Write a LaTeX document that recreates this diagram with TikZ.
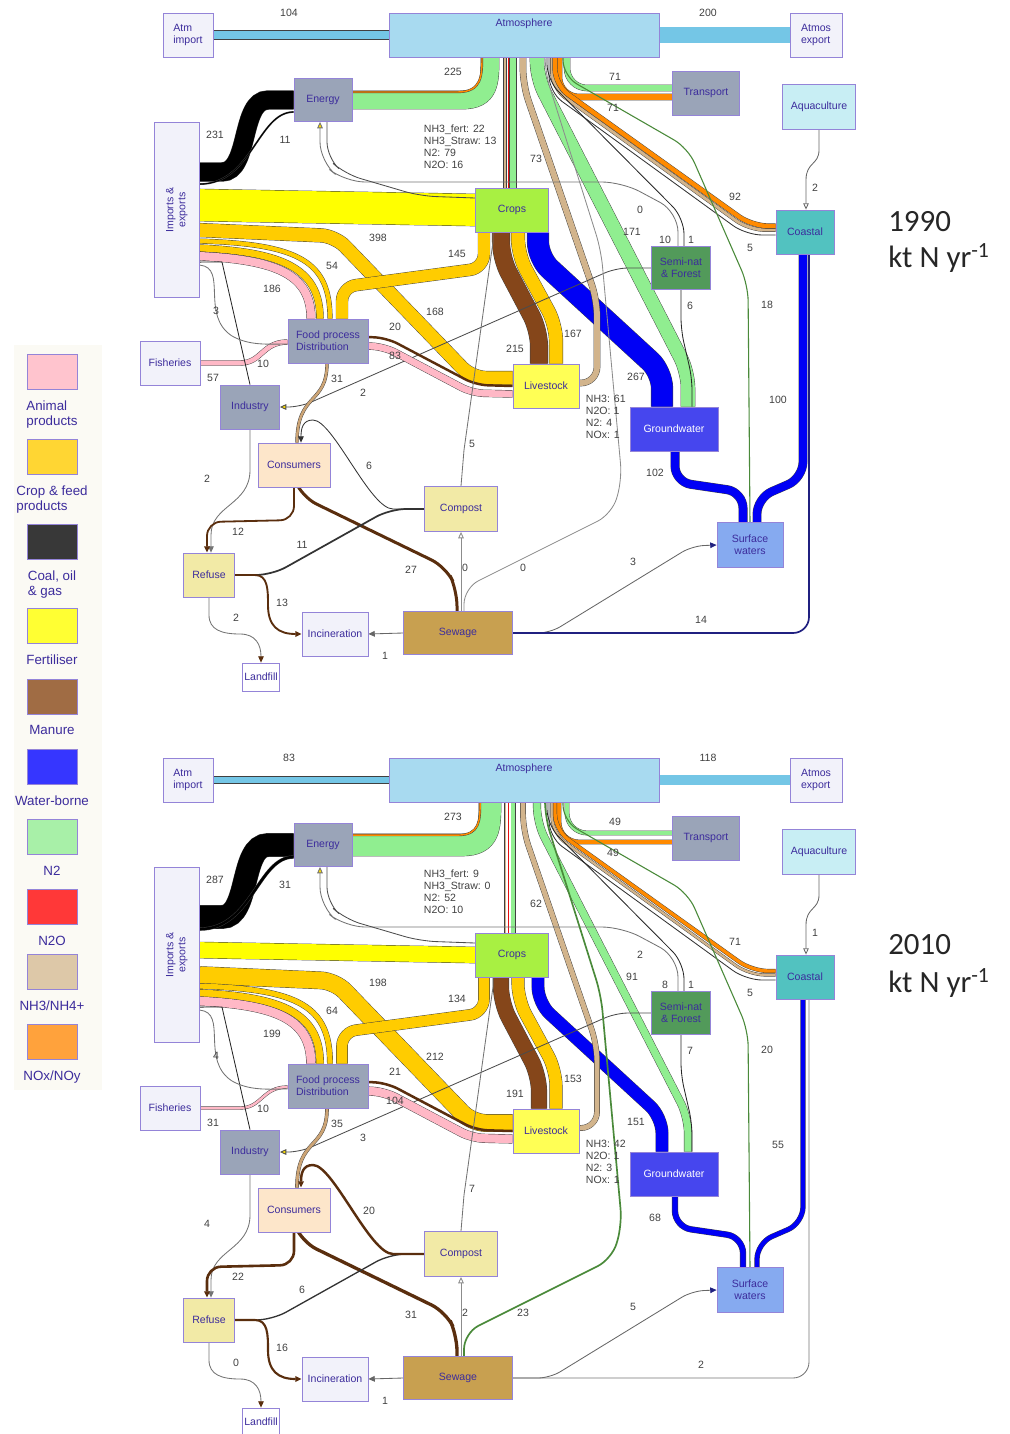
\documentclass[tikz,border=0pt]{standalone}
\usepackage{fontspec}
\setsansfont{Liberation Sans}
\newfontfamily\yearfont{Carlito}
\usetikzlibrary{arrows.meta, calc, positioning, backgrounds}

% box colours
\definecolor{boxline}{HTML}{9484D8}
\definecolor{txtblue}{HTML}{3C2C9C}
\definecolor{palebox}{HTML}{F2F2FA}
\definecolor{atmosfill}{HTML}{A8DAF0}
\definecolor{atmflow}{HTML}{74C6E6}
\definecolor{greybox}{HTML}{9AA4B8}
\definecolor{aquafill}{HTML}{C8EEF4}
\definecolor{cropsfill}{HTML}{A8F042}
\definecolor{coastfill}{HTML}{52C2C0}
\definecolor{semifill}{HTML}{529A5A}
\definecolor{livefill}{HTML}{FFFF55}
\definecolor{gwfill}{HTML}{4646EE}
\definecolor{consfill}{HTML}{FDE6CA}
\definecolor{compfill}{HTML}{F2EAA6}
\definecolor{swfill}{HTML}{86AAF0}
\definecolor{sewfill}{HTML}{C8A050}
% flow colours
\definecolor{animal}{HTML}{FFB8C6}
\definecolor{cropfeed}{HTML}{FFCC00}
\definecolor{coal}{HTML}{000000}
\definecolor{fert}{HTML}{FFFF00}
\definecolor{manure}{HTML}{85461A}
\definecolor{water}{HTML}{0000F5}
\definecolor{ntwo}{HTML}{90EE90}
\definecolor{ntwoo}{HTML}{E81010}
\definecolor{nhthree}{HTML}{D2B48C}
\definecolor{nox}{HTML}{FF8A00}
\definecolor{darkgr}{HTML}{4A8A3A}
\definecolor{navy}{HTML}{202080}
\definecolor{dbrown}{HTML}{5A2E0E}
% legend colours
\definecolor{legendbg}{HTML}{FBFAF4}
\definecolor{legpink}{HTML}{FFC4CE}
\definecolor{leggold}{HTML}{FFD633}
\definecolor{legcoal}{HTML}{383838}
\definecolor{legfert}{HTML}{FFFF33}
\definecolor{legmanure}{HTML}{A06C44}
\definecolor{legwater}{HTML}{3636FF}
\definecolor{legntwo}{HTML}{A8F0A8}
\definecolor{legntwoo}{HTML}{FF3838}
\definecolor{legnh}{HTML}{DDC8A8}
\definecolor{legnox}{HTML}{FFA23C}

\newcommand\pxl{0.025cm}
\newcommand\kts{0.002cm}
\newcommand\nv[1]{\csname nv@#1\endcsname}
\newcommand\setnv[1]{\foreach \nk/\nval in {#1}{\expandafter\xdef\csname nv@\nk\endcsname{\nval}}}

\tikzset{
  box/.style={draw=boxline, line width=0.6pt, inner sep=1pt, align=center,
    font=\sffamily\fontsize{7.5}{8.5}\selectfont, text=txtblue},
  sz/.style 2 args={minimum width=#1*\pxl, minimum height=#2*\pxl},
  num/.style={font=\sffamily\fontsize{7.5}{8.5}\selectfont, text=black!75, inner sep=0.5pt},
  flow/.style 2 args={draw=black!75, line width=0.3pt, double=#1, double distance=#2*\kts},
  pipe/.style 2 args={draw=#1, line width=0.6pt+#2*\kts},
  arr/.style={-{Triangle[length=4.5pt, width=4pt]}},
  yarr/.style={-{Triangle[length=4.5pt, width=4pt, fill=yellow!80!orange]}},
  oarr/.style={-{Triangle[length=4.5pt, width=4pt, open]}},
  barr/.style={-{Triangle[length=4.5pt, width=4pt, color=dbrown]}},
  narr/.style={-{Triangle[length=4.5pt, width=4pt, color=navy]}},
  swatch/.style={draw=boxline, line width=0.6pt, minimum width=50*\pxl, minimum height=35*\pxl},
  legtxt/.style={font=\sffamily\fontsize{9.5}{10.5}\selectfont, text=txtblue, align=left, inner sep=0pt},
  yeartxt/.style={font=\yearfont\fontsize{22}{24}\selectfont, text=black!85, anchor=west, inner sep=0pt}
}

% one year of the nitrogen budget, values taken from \nv{...}
\newcommand\nitropanel{%
  % boxes
  \node[box, sz={50}{44}, fill=palebox, align=left] (atmimp) at (188,35) {Atm\\import};
  \node[box, sz={270}{44}, fill=atmosfill,
    label={[box, draw=none, anchor=north, yshift=-3pt]north:Atmosphere}] (atmos) at (524,35) {};
  \node[box, sz={52}{44}, fill=palebox, align=left] (atmexp) at (816,35) {Atmos\\export};
  \node[box, sz={58}{43}, fill=greybox] (energy) at (323,100) {Energy};
  \node[box, sz={67}{44}, fill=greybox] (transport) at (706,93) {Transport};
  \node[box, sz={73}{45}, fill=aquafill] (aqua) at (819,107) {Aquaculture};
  \node[box, sz={45}{175}, fill=palebox] (impexp) at (177,210)
    {\rotatebox{90}{\begin{tabular}{@{}c@{}}Imports \&\\exports\end{tabular}}};
  \node[box, sz={73}{44}, fill=cropsfill] (crops) at (512,210) {Crops};
  \node[box, sz={58}{44}, fill=coastfill] (coastal) at (805,232) {Coastal};
  \node[box, sz={59}{43}, fill=semifill] (seminat) at (681,268) {Semi-nat\\\& Forest};
  \node[box, sz={60}{44}, fill=palebox] (fisheries) at (170,363) {Fisheries};
  \node[box, sz={80}{44}, fill=greybox, align=left] (foodproc) at (328,341) {Food process\\Distribution};
  \node[box, sz={66}{44}, fill=livefill] (livestock) at (546,386) {Livestock};
  \node[box, sz={59}{44}, fill=greybox] (industry) at (250,407) {Industry};
  \node[box, sz={88}{44}, fill=gwfill, text=white] (gw) at (674,429) {Groundwater};
  \node[box, sz={72}{44}, fill=consfill] (consumers) at (294,465) {Consumers};
  \node[box, sz={73}{45}, fill=compfill] (compost) at (461,509) {Compost};
  \node[box, sz={66}{45}, fill=swfill] (surface) at (750,545) {Surface\\waters};
  \node[box, sz={51}{44}, fill=compfill] (refuse) at (209,575) {Refuse};
  \node[box, sz={66}{44}, fill=palebox] (incin) at (335,634) {Incineration};
  \node[box, sz={109}{43}, fill=sewfill] (sewage) at (458,633) {Sewage};
  \node[box, sz={37}{28}, fill=white] (landfill) at (261,677) {Landfill};

  % flows, behind the boxes
  \begin{scope}[on background layer]
    % air in and out
    \draw[flow={atmflow}{\nv{atmimp}}] (atmimp.east) -- (atmos.west);
    \draw[flow={atmflow}{\nv{atmexp}}] (atmos.east) -- (atmexp.west);
    % fuel to energy, energy to air
    \draw[flow={coal}{\nv{coal}}] (impexp.north east) ++(0,50) -- (222,172)
      .. controls (250,172) and (240,100) .. (268,100) -- (energy.west);
    \draw[flow={coal}{\nv{coalb}}] (impexp.north east) ++(0,62)
      .. controls (252,184) and (258,112) .. (energy.west |- 0,112);
    \draw[flow={ntwo}{\nv{enatm}}] (energy.east) -- (462,100)
      .. controls (490,100) and (490,82) .. (490,0 |- atmos.south);
    \pgfmathsetmacro\noxy{101-\nv{enatm}*0.04}
    \pgfmathsetmacro\noxx{491-\nv{enatm}*0.04}
    \draw[flow={nox}{18}] (energy.east |- 0,\noxy) -- (458,\noxy)
      .. controls (\noxx,\noxy) and (\noxx,75) .. (\noxx,0 |- atmos.south);
    % imports of fertiliser, feed and food
    \draw[flow={fert}{\nv{fert}}] (impexp.north east) ++(0,83) -- (crops.west);
    \draw[flow={cropfeed}{\nv{implive}}, rounded corners=0.35cm] (impexp.north east) ++(0,108)
      -- (335,236) -- (472,378) -- (livestock.west |- 0,378);
    \draw[flow={cropfeed}{\nv{impfoodb}}] (impexp.north east) ++(0,119)
      .. controls (300,244) and (330,262) .. (330,0 |- foodproc.north);
    \draw[flow={cropfeed}{\nv{impfood}*0.45}] (impexp.north east) ++(0,126)
      .. controls (282,252) and (320,268) .. (320,0 |- foodproc.north);
    \draw[flow={animal}{\nv{impfood}*0.55}] (impexp.north east) ++(0,134)
      .. controls (276,260) and (311,274) .. (311,0 |- foodproc.north);
    % crops, manure and leaching
    \draw[flow={cropfeed}{\nv{cropfood}}, rounded corners=0.35cm] (484,0 |- crops.south)
      -- (484,268) -- (342,287) -- (342,0 |- foodproc.north);
    \draw[flow={manure}{\nv{manure}}, rounded corners=0.4cm] (501,0 |- crops.south)
      -- (501,258) -- (539,330) -- (539,0 |- livestock.north);
    \draw[flow={cropfeed}{\nv{croplive}}, rounded corners=0.4cm] (518,0 |- crops.south)
      -- (518,255) -- (556,325) -- (556,0 |- livestock.north);
    \draw[flow={water}{\nv{cropgw}}, rounded corners=0.4cm] (538,0 |- crops.south)
      -- (538,258) -- (662,372) -- (662,0 |- gw.north);
    % exchanges with the air
    \draw[flow={ntwo}{\nv{atmgw}}, rounded corners=0.4cm] (537,0 |- atmos.south)
      -- (537,78) -- (688,372) -- (688,0 |- gw.north);
    \draw[flow={nhthree}{(\nv{nhfert}+\nv{nhstraw})}] (505,0 |- atmos.south) -- (505,0 |- crops.north);
    \draw[ntwoo, line width=\nv{ntwoocrop}*\kts+0.3pt] (508.5,0 |- atmos.south) -- (508.5,0 |- crops.north);
    \draw[flow={ntwo}{\nv{ntwocrop}}] (513,0 |- atmos.south) -- (513,0 |- crops.north);
    \draw[flow={nhthree}{\nv{liveatm}}, rounded corners=0.4cm] (livestock.east |- 0,383)
      -- (597,383) -- (597,300) -- (523,85) -- (523,0 |- atmos.south);
    \draw[flow={ntwo}{\nv{transn}}, rounded corners=0.5cm] (567,0 |- atmos.south)
      -- (567,88) -- (transport.west |- 0,88);
    \draw[flow={nox}{\nv{transx}}, rounded corners=0.5cm] (559,0 |- atmos.south)
      -- (559,97) -- (transport.west |- 0,97);
    \draw[flow={nhthree}{\nv{atmcoast}*0.4}, rounded corners=0.4cm] (552,0 |- atmos.south)
      -- (552,88) -- (749,230) -- (coastal.west |- 0,230);
    \draw[flow={nox}{\nv{atmcoast}*0.6}, rounded corners=0.4cm] (555,0 |- atmos.south)
      -- (555,85) -- (752,226) -- (coastal.west |- 0,226);
    \draw[pipe={black!80}{0}, rounded corners=0.4cm] (549,0 |- atmos.south)
      -- (549,92) -- (746,235) -- (coastal.west |- 0,235);
    \draw[pipe={darkgr}{3}, rounded corners=0.4cm] (563,0 |- atmos.south) -- (563,76)
      -- (688,148) -- (748,285) -- (750,0 |- surface.north);
    % semi-natural land
    \draw[pipe={black!55}{0}, rounded corners=0.5cm, yarr] (678,0 |- seminat.north)
      -- (678,212) -- (622,182) -- (345,182) -- (320,162) -- (320,0 |- energy.south);
    \draw[pipe={black!70}{0}, rounded corners=0.4cm] (crops.west |- 0,198)
      -- (420,196) -- (345,174) -- (327,158) -- (327,0 |- energy.south);
    \draw[pipe={black!85}{0}, rounded corners=0.4cm] (547,0 |- atmos.south)
      -- (547,80) -- (684,218) -- (684,0 |- seminat.north);
    \draw[pipe={black!85}{0}, rounded corners=0.3cm] (seminat.south)
      -- (681,330) -- (692,378) -- (692,0 |- gw.north);
    \draw[pipe={black!70}{0}, rounded corners=0.3cm, yarr] (seminat.west)
      -- (616,268) -- (300,407) -- (industry.east);
    % food chain
    \draw[flow={animal}{\nv{fish}}] (fisheries.east) -- (240,363)
      .. controls (262,363) and (262,342) .. (foodproc.west |- 0,342);
    \draw[pipe={black!85}{0}] (impexp.north east) ++(0,140) -- (222,262) -- (industry.north);
    \draw[pipe={black!55}{0}] (impexp.north east) ++(0,143)
      .. controls (228,268) and (200,315) .. (232,336)
      .. controls (250,346) and (268,344) .. (foodproc.west |- 0,344);
    \draw[flow={animal}{\nv{foodlivep}}, rounded corners=0.3cm] (foodproc.east |- 0,346)
      -- (385,347) -- (472,393) -- (livestock.west |- 0,394);
    \draw[pipe={dbrown}{\nv{foodliveb}}, rounded corners=0.3cm] (foodproc.east |- 0,337)
      -- (387,338) -- (476,385) -- (livestock.west |- 0,386);
    \draw[flow={nhthree!70!brown}{\nv{foodcons}}] (327,0 |- foodproc.south)
      .. controls (327,405) and (297,392) .. (297,0 |- consumers.north);
    % wastes
    \draw[pipe={black!55}{0}, arr] (industry.south) -- (250,470)
      .. controls (250,505) and (211,505) .. (211,535) -- (211,0 |- refuse.north);
    \draw[pipe={dbrown}{\nv{consref}}, rounded corners=0.35cm, arr] (294,0 |- consumers.south)
      -- (294,520) -- (207,522) -- (207,0 |- refuse.north);
    \draw[pipe={dbrown}{\nv{conssew}}, rounded corners=0.4cm] (298,0 |- consumers.south)
      -- (302,497) -- (446,567) -- (457,590) -- (457,0 |- sewage.north);
    \draw[pipe={black!80}{\nv{refcomp}}, rounded corners=0.4cm] (refuse.east)
      -- (272,575) -- (390,509) -- (compost.west);
    \draw[compcons, arr] (compost.west) -- (393,509)
      .. controls (370,509) and (333,420) .. (313,420)
      .. controls (303,420) and (301,428) .. (301,0 |- consumers.north);
    \draw[pipe={dbrown}{\nv{refinc}}, arr] (refuse.east) -- (255,575)
      .. controls (268,575) and (268,590) .. (268,605)
      .. controls (268,626) and (278,634) .. (incin.west);
    \draw[pipe={black!55}{0}, barr] (refuse.south)
      -- (209,615) .. controls (209,630) and (222,634) .. (240,634)
      .. controls (256,634) and (261,645) .. (261,0 |- landfill.north);
    \draw[pipe={black!60}{0}, arr] (sewage.west) -- (incin.east);
    \draw[pipe={black!45}{0}, oarr] (461,0 |- sewage.north) -- (461,0 |- compost.south);
    \draw[sewatm, rounded corners=0.4cm] (464,0 |- sewage.north) -- (464,588)
      -- (612,514) -- (622,480) -- (601,250) -- (545,72) -- (545,0 |- atmos.south);
    \draw[pipe={black!55}{0}] (compost.north) -- (464,450) -- (493,242) -- (493,0 |- crops.south);
    % waters
    \draw[pipe={black!60}{0}, rounded corners=0.3cm, narr] (sewage.east)
      -- (550,633) -- (692,546) -- (surface.west);
    \draw[sewcoast, rounded corners=0.4cm] (sewage.east) -- (809,633) -- (809,0 |- coastal.south);
    \draw[flow={water}{\nv{gwsw}}, rounded corners=0.4cm] (675,0 |- gw.south)
      -- (675,482) -- (743,492) -- (743,0 |- surface.north);
    \draw[flow={water}{\nv{swcoast}}, rounded corners=0.4cm] (757,0 |- surface.north)
      -- (757,498) -- (803,478) -- (803,0 |- coastal.south);
    \draw[pipe={black!60}{0}, oarr] (aqua.south) -- (819,150)
      .. controls (819,165) and (806,162) .. (806,180) -- (806,0 |- coastal.north);
  \end{scope}

  % numbers on the flows
  \foreach \lx/\ly/\lk in {289/13/atmimp, 708/13/atmexp, 453/72/enatm, 215/135/coal,
      285/140/coalb, 536/159/liveatm, 615/77/transn, 613/108/transx, 735/197/atmcoast,
      815/188/aquac, 640/210/semizero, 632/232/atmgw, 665/240/semien, 691/240/semiatm,
      750/248/coastb, 378/238/fert, 457/254/cropfood, 332/266/impfoodb, 272/289/impfood,
      690/306/semigw, 767/305/surfln, 216/311/impfoodc, 435/312/implive, 395/327/foodliveb,
      573/334/croplive, 515/349/manure, 395/356/foodlivep, 263/364/impind, 213/378/fish,
      636/377/cropgw, 337/379/foodcons, 363/393/semiind, 778/400/swcoast, 472/444/compcrop,
      369/466/compcons, 655/473/gwsw, 207/479/indref, 238/532/consref, 302/545/refcomp,
      411/570/conssew, 465/568/sewcomp, 523/568/sewatm, 633/562/sewsw, 282/603/refinc,
      236/618/refland, 701/620/sewcoast, 385/656/sewinc}
    \node[num] (l-\lk) at (\lx,\ly) {\nv{\lk}};
  \node[num, align=left, anchor=north west] (atmcrop) at (423,124)
    {NH3\_fert: \nv{nhfert}\\NH3\_Straw: \nv{nhstraw}\\N2: \nv{ntwocrop}\\N2O: \nv{ntwoocrop}};
  \node[num, align=left, anchor=north west] (livegas) at (585,394)
    {NH3: \nv{livenh}\\N2O: \nv{liventwoo}\\N2: \nv{liventwo}\\NOx: \nv{livenox}};
}

\begin{document}
\begin{tikzpicture}[x=\pxl, y=-\pxl]
\useasboundingbox (0,0) rectangle (1009,1434);

% 1990
\setnv{atmimp/104, atmexp/200, enatm/225, coal/231, coalb/11, nhfert/22, nhstraw/13,
  ntwocrop/79, ntwoocrop/16, liveatm/73, transn/71, transx/71, atmcoast/92, aquac/2,
  semizero/0, atmgw/171, semien/10, semiatm/1, coastb/5, fert/398, cropfood/145,
  impfoodb/54, impfood/186, semigw/6, surfln/18, impfoodc/3, implive/168, foodliveb/20,
  croplive/167, manure/215, foodlivep/83, impind/10, fish/57, cropgw/267, foodcons/31,
  semiind/2, swcoast/100, livenh/61, liventwoo/1, liventwo/4, livenox/1, compcrop/5,
  compcons/6, gwsw/102, indref/2, consref/12, refcomp/11, conssew/27, sewcomp/0,
  sewatm/0, sewsw/3, refinc/13, refland/2, sewcoast/14, sewinc/1}
\begin{scope}[name prefix=y90-,
    compcons/.style={pipe={black!80}{0}},
    sewatm/.style={pipe={black!45}{0}},
    sewcoast/.style={draw=navy, line width=1.2pt}]
  \nitropanel
\end{scope}

% 2010
\setnv{atmimp/83, atmexp/118, enatm/273, coal/287, coalb/31, nhfert/9, nhstraw/0,
  ntwocrop/52, ntwoocrop/10, liveatm/62, transn/49, transx/49, atmcoast/71, aquac/1,
  semizero/2, atmgw/91, semien/8, semiatm/1, coastb/5, fert/198, cropfood/134,
  impfoodb/64, impfood/199, semigw/7, surfln/20, impfoodc/4, implive/212, foodliveb/21,
  croplive/153, manure/191, foodlivep/104, impind/10, fish/31, cropgw/151, foodcons/35,
  semiind/3, swcoast/55, livenh/42, liventwoo/1, liventwo/3, livenox/1, compcrop/7,
  compcons/20, gwsw/68, indref/4, consref/22, refcomp/6, conssew/31, sewcomp/2,
  sewatm/23, sewsw/5, refinc/16, refland/0, sewcoast/2, sewinc/1}
\begin{scope}[shift={(0,745)}, name prefix=y10-,
    compcons/.style={pipe={dbrown}{20}},
    sewatm/.style={draw=darkgr, line width=1.2pt},
    sewcoast/.style={pipe={black!55}{0}}]
  \nitropanel
\end{scope}

% year labels
\node[yeartxt] (yr90) at (888,222) {1990};
\node[yeartxt] (unit90) at (888,258) {kt N yr\textsuperscript{-1}};
\node[yeartxt] (yr10) at (888,945) {2010};
\node[yeartxt] (unit10) at (888,983) {kt N yr\textsuperscript{-1}};

% legend
\fill[legendbg] (14,345) rectangle (102,1090);
\foreach \ix/\yy/\cc/\lt in {1/372/legpink/{Animal\\products}, 2/457/leggold/{Crop \& feed\\products},
    3/542/legcoal/{Coal, oil\\\& gas}, 4/626/legfert/Fertiliser, 5/697/legmanure/Manure,
    6/767/legwater/Water-borne, 7/837/legntwo/N2, 8/907/legntwoo/N2O,
    9/972/legnh/{NH3/NH4+}, 10/1042/legnox/{NOx/NOy}}{
  \node[swatch, fill=\cc] (sw\ix) at (52,\yy) {};
  \node[legtxt, below=7.5pt of sw\ix] (swl\ix) {\lt};
}
\end{tikzpicture}
\end{document}
